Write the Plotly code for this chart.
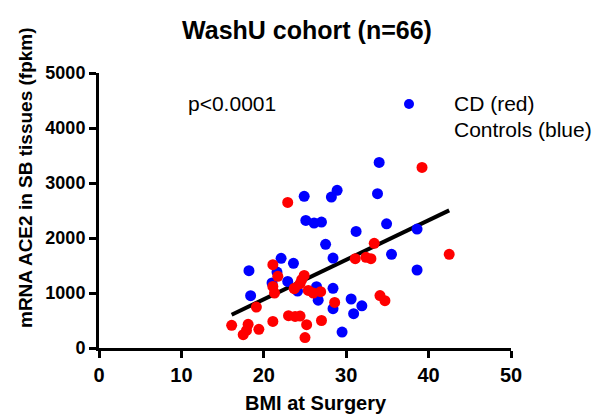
import plotly.graph_objects as go

# Controls (drawn blue)
ctrl_bmi = [18.2, 18.4, 22.1, 21.6, 21.0, 22.9, 23.6, 24.1, 26.4, 26.6, 28.4, 28.4,
            30.6, 30.9, 29.5, 31.9, 27.5, 28.4, 24.9, 28.2, 28.9, 25.1, 26.1, 27.0,
            31.2, 33.8, 34.0, 34.9, 38.6, 35.5, 38.6]
ctrl_ace2 = [1405, 951, 1630, 1380, 1182, 1211, 1540, 1035, 1115, 870, 1085, 715,
             891, 624, 290, 766, 1885, 1636, 2757, 2745, 2866, 2320, 2273, 2290,
             2120, 2805, 3375, 2257, 2163, 1703, 1418]

# CD (drawn red)
cd_bmi = [22.9, 39.2, 21.1, 21.7, 21.1, 21.3, 23.7, 24.9, 24.6, 24.4, 25.4, 26.0,
          26.9, 28.6, 19.1, 16.1, 18.1, 17.9, 17.5, 19.4, 21.1, 23.0, 23.8, 24.4,
          25.2, 27.0, 25.0, 33.4, 31.1, 32.4, 33.0, 42.5, 34.1, 34.7, 23.7]
cd_ace2 = [2647, 3284, 1515, 1303, 1120, 1000, 1085, 1320, 1242, 1169, 1047, 1000,
           1025, 829, 745, 412, 430, 320, 242, 340, 484, 587, 575, 580,
           424, 500, 190, 1903, 1624, 1648, 1624, 1703, 953, 860, 1078]

# Regression line as drawn in the reference
fit_bmi = [16.1, 42.5]
fit_ace2 = [605, 2502]

x_ticks = [0, 10, 20, 30, 40, 50]
y_ticks = [0, 1000, 2000, 3000, 4000, 5000]

FONT = "Liberation Sans, Arial, sans-serif"

fig = go.Figure()
fig.add_trace(go.Scatter(x=fit_bmi, y=fit_ace2, mode="lines",
                         line=dict(color="black", width=4), showlegend=False,
                         hoverinfo="skip"))
fig.add_trace(go.Scatter(x=ctrl_bmi, y=ctrl_ace2, mode="markers", name="Controls",
                         marker=dict(color="#0000FF", size=11, line=dict(width=0)),
                         showlegend=False))
fig.add_trace(go.Scatter(x=cd_bmi, y=cd_ace2, mode="markers", name="CD",
                         marker=dict(color="#FF0000", size=11, line=dict(width=0)),
                         showlegend=False))

axis_common = dict(showline=True, linecolor="black", linewidth=3, ticks="outside",
                   ticklen=7, tickwidth=3, tickcolor="black", showgrid=False,
                   zeroline=False)

fig.update_xaxes(range=[0, 50], tickvals=x_ticks,
                 tickfont=dict(family=FONT, size=20, color="black", weight="bold"),
                 **axis_common)
fig.update_yaxes(range=[0, 5000], tickvals=y_ticks,
                 tickfont=dict(family=FONT, size=18, color="black", weight="bold"),
                 **axis_common)

fig.update_layout(
    width=600, height=419,
    margin=dict(l=99, r=89, t=73, b=71),
    paper_bgcolor="white", plot_bgcolor="white",
    showlegend=False,
    title=dict(text="<b>WashU cohort (n=66)</b>", x=(307 - 99) / 412, xref="paper",
               xanchor="center", y=1 - 30 / 419, yanchor="middle",
               font=dict(family=FONT, size=25, color="black")),
    annotations=[
        dict(text="<b>mRNA ACE2 in SB tissues (fpkm)</b>", textangle=-90,
             xref="paper", yref="paper", x=-74 / 412, y=(348 - 178) / 275,
             xanchor="center", yanchor="middle", showarrow=False,
             font=dict(family=FONT, size=19, color="black")),
        dict(text="<b>BMI at Surgery</b>", xref="paper", yref="paper",
             x=(316 - 99) / 412, y=-(403 - 348) / 275, xanchor="center",
             yanchor="middle", showarrow=False,
             font=dict(family=FONT, size=20, color="black")),
        dict(text="p<0.0001", xref="paper", yref="paper",
             x=(186 - 99) / 412, y=(348 - 104) / 275, xanchor="left",
             yanchor="middle", showarrow=False,
             font=dict(family=FONT, size=21, color="black")),
        dict(text="CD (red)", xref="paper", yref="paper",
             x=(452 - 99) / 412, y=(348 - 104) / 275, xanchor="left",
             yanchor="middle", showarrow=False,
             font=dict(family=FONT, size=21, color="black")),
        dict(text="Controls (blue)", xref="paper", yref="paper",
             x=(452 - 99) / 412, y=(348 - 129) / 275, xanchor="left",
             yanchor="middle", showarrow=False,
             font=dict(family=FONT, size=21, color="black")),
    ],
    shapes=[
        dict(type="circle", xref="paper", yref="paper",
             x0=(404 - 99) / 412, x1=(414 - 99) / 412,
             y0=(348 - 109) / 275, y1=(348 - 99) / 275,
             fillcolor="#0000FF", line=dict(width=0)),
    ],
)

fig.write_html("out.html", post_script="document.body.style.margin='0';",
               config={"displayModeBar": False})
